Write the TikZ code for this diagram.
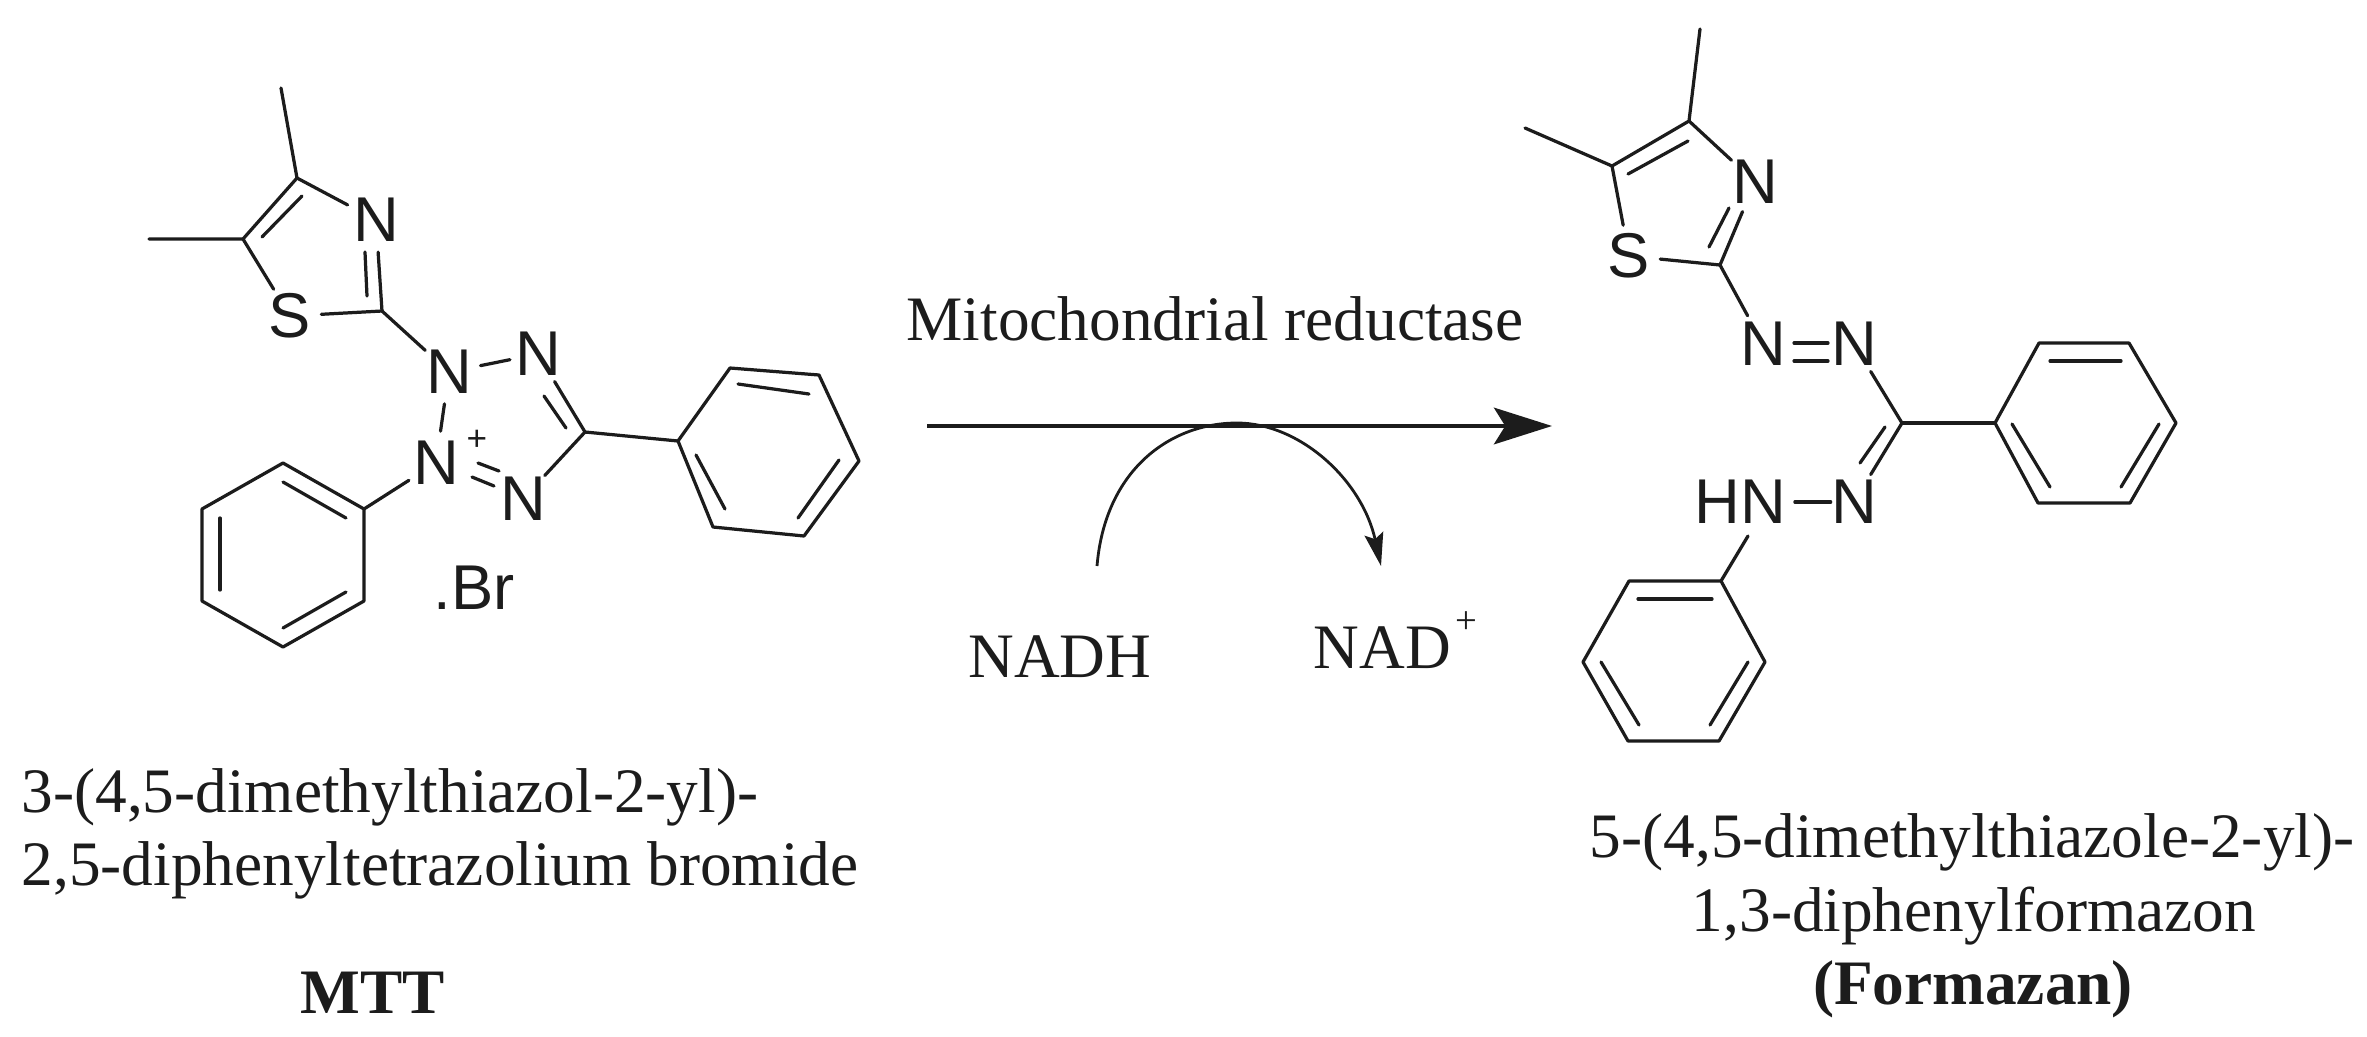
\documentclass[tikz,border=0pt]{standalone}
\usepackage{fontspec}
\setmainfont{Liberation Serif}
\newfontfamily\atomfont{Liberation Sans}
\usetikzlibrary{arrows.meta}
\definecolor{ink}{HTML}{1C1C1C}
\tikzset{
  bond/.style={line width=0.92pt,color=ink,line cap=round,line join=round},
  atom/.style={shape=circle,inner sep=0pt,text=ink,font=\atomfont\fontsize{18pt}{20pt}\selectfont},
  atomlong/.style={shape=rectangle,inner sep=3pt,text=ink,font=\atomfont\fontsize{18pt}{20pt}\selectfont},
  charge/.style={inner sep=0pt,text=ink,font=\atomfont\fontsize{10pt}{12pt}\selectfont},
  caption/.style={inner sep=0pt,anchor=base,text=ink,font=\fontsize{18pt}{21pt}\selectfont},
  captionleft/.style={caption,anchor=base west},
  captionbold/.style={caption,font=\bfseries\fontsize{18pt}{21pt}\selectfont},
  mainarrow/.style={line width=1.2pt,color=ink,-{Stealth[length=16.5pt,width=10.4pt,inset=3.2pt]}},
  cofactor/.style={line width=0.8pt,color=ink,-{Stealth[length=9.4pt,width=5.4pt,inset=1.6pt]}},
}
\begin{document}
\begin{tikzpicture}[x=0.01cm,y=-0.01cm]
\useasboundingbox (0,0) rectangle (2367,1036);

% ---------- MTT ----------
\node[atom] (lNt) at (376,220) {N};
\node[atom] (lS) at (290,316) {S};
\node[atom] (lNa) at (449,372) {N};
\node[atom] (lNb) at (538,354) {N};
\node[atom] (lNp) at (436,463) {N};
\node[atom] (lNc) at (523,499) {N};
\node[charge] (lplus) at (477,440) {+};
\node[caption,font=\atomfont\fontsize{18pt}{20pt}\selectfont] (lBr) at (474,609) {.Br};

\coordinate (lMa) at (281,88);
\coordinate (lC4) at (297,178);
\coordinate (lC5) at (243,239);
\coordinate (lMb) at (149,239);
\coordinate (lC2) at (382,311);
\coordinate (lCt) at (585,432);

\coordinate (rA1) at (678,441);
\coordinate (rA2) at (730,368);
\coordinate (rA3) at (819,375);
\coordinate (rA4) at (859,461);
\coordinate (rA5) at (804,536);
\coordinate (rA6) at (713,527);

\coordinate (lB1) at (364,509);
\coordinate (lB2) at (283,463);
\coordinate (lB3) at (202,509);
\coordinate (lB4) at (202,601);
\coordinate (lB5) at (283,647);
\coordinate (lB6) at (364,601);

\draw[bond] (lMa) -- (lC4) -- (lC5) -- (lMb);
\draw[bond] (lC4) -- (lNt);
\draw[bond] (lC5) -- (lS);
\draw[bond] (lS) -- (lC2);
\draw[bond] (lNt) -- (lC2);
\draw[bond] (365,252) -- (367,296);
\draw[bond] (262,237) -- (302,196);
\draw[bond] (lC2) -- (lNa);
\draw[bond,shorten >=-1pt] (lNa) -- (lNb);
\draw[bond] (lNa) -- (lNp);
\draw[bond] (lNb) -- (lCt);
\draw[bond] (544,396) -- (566,428);
\draw[bond] (lCt) -- (lNc);
\draw[bond] (478,463) -- (499,471);
\draw[bond] (472,477) -- (494,486);
\draw[bond] (lCt) -- (rA1);
\draw[bond] (lNp) -- (lB1);

\draw[bond] (rA1) -- (rA2) -- (rA3) -- (rA4) -- (rA5) -- (rA6) -- cycle;
\draw[bond] (738,384) -- (809,394);
\draw[bond] (839,460) -- (798,518);
\draw[bond] (696,455) -- (725,509);

\draw[bond] (lB1) -- (lB2) -- (lB3) -- (lB4) -- (lB5) -- (lB6) -- cycle;
\draw[bond] (283,482) -- (346,518);
\draw[bond] (220,518) -- (220,590);
\draw[bond] (283,628) -- (346,592);

\node[captionleft] (capA) at (21,812) {3-(4,5-dimethylthiazol-2-yl)-};
\node[captionleft] (capB) at (21,885) {2,5-diphenyltetrazolium bromide};
\node[captionbold] (capC) at (373,1013) {MTT};

% ---------- reaction arrow ----------
\coordinate (arrS) at (927,426);
\coordinate (arrE) at (1552,426);
\coordinate (nadS) at (1097,566);
\coordinate (nadT) at (1237,423);
\coordinate (nadE) at (1381,566);
\draw[mainarrow] (arrS) -- (arrE);
\draw[cofactor] (nadS) .. controls (1105,470) and (1170,423) .. (nadT)
  .. controls (1300,423) and (1362,480) .. (nadE);
\node[caption] (enz) at (1215,340) {Mitochondrial reductase};
\node[caption] (nadh) at (1060,677) {NADH};
\node[caption,anchor=base west] (nadp) at (1313,668) {NAD\kern1.2pt\raisebox{0.55em}{\fontsize{11pt}{12pt}\selectfont +}};

% ---------- Formazan ----------
\node[atom] (fNt) at (1755,182) {N};
\node[atom] (fS) at (1629,256) {S};
\node[atom] (fNa) at (1763,344) {N};
\node[atom] (fNb) at (1854,344) {N};
\node[atom] (fNc) at (1854,502) {N};
\node[atomlong] (fHN) at (1740,502) {HN};

\coordinate (fMa) at (1700,29);
\coordinate (fC4) at (1689,121);
\coordinate (fC5) at (1612,166);
\coordinate (fMb) at (1525,128);
\coordinate (fC2) at (1720,265);
\coordinate (fC) at (1902,423);
\coordinate (fHNb) at (1748,536);

\coordinate (pA1) at (1995,423);
\coordinate (pA2) at (2039,343);
\coordinate (pA3) at (2129,343);
\coordinate (pA4) at (2176,423);
\coordinate (pA5) at (2130,503);
\coordinate (pA6) at (2038,503);

\coordinate (qB1) at (1721,581);
\coordinate (qB2) at (1629,581);
\coordinate (qB3) at (1583,662);
\coordinate (qB4) at (1628,741);
\coordinate (qB5) at (1719,741);
\coordinate (qB6) at (1765,662);

\draw[bond] (fMa) -- (fC4) -- (fC5) -- (fMb);
\draw[bond] (fC4) -- (fNt);
\draw[bond] (fC5) -- (fS);
\draw[bond] (fS) -- (fC2);
\draw[bond] (fC2) -- (fNt);
\draw[bond] (1709,247) -- (1729,208);
\draw[bond] (1628,174) -- (1688,141);
\draw[bond] (fC2) -- (fNa);
\draw[bond] (1794,343) -- (1828,343);
\draw[bond] (1794,361) -- (1828,361);
\draw[bond] (fNb) -- (fC);
\draw[bond] (fC) -- (fNc);
\draw[bond] (1885,427) -- (1860,463);
\draw[bond] (fC) -- (pA1);
\draw[bond,shorten <=-0.6pt,shorten >=-2.5pt] (fHN) -- (fNc);
\draw[bond] (fHNb) -- (qB1);

\draw[bond] (pA1) -- (pA2) -- (pA3) -- (pA4) -- (pA5) -- (pA6) -- cycle;
\draw[bond] (2050,361) -- (2121,361);
\draw[bond] (2159,424) -- (2121,487);
\draw[bond] (2012,424) -- (2050,487);

\draw[bond] (qB1) -- (qB2) -- (qB3) -- (qB4) -- (qB5) -- (qB6) -- cycle;
\draw[bond] (1638,599) -- (1712,599);
\draw[bond] (1601,662) -- (1639,725);
\draw[bond] (1748,662) -- (1710,725);

\node[caption] (capD) at (1972,857) {5-(4,5-dimethylthiazole-2-yl)-};
\node[caption] (capE) at (1974,931) {1,3-diphenylformazon};
\node[captionbold] (capF) at (1973,1004) {(Formazan)};
\end{tikzpicture}
\end{document}
